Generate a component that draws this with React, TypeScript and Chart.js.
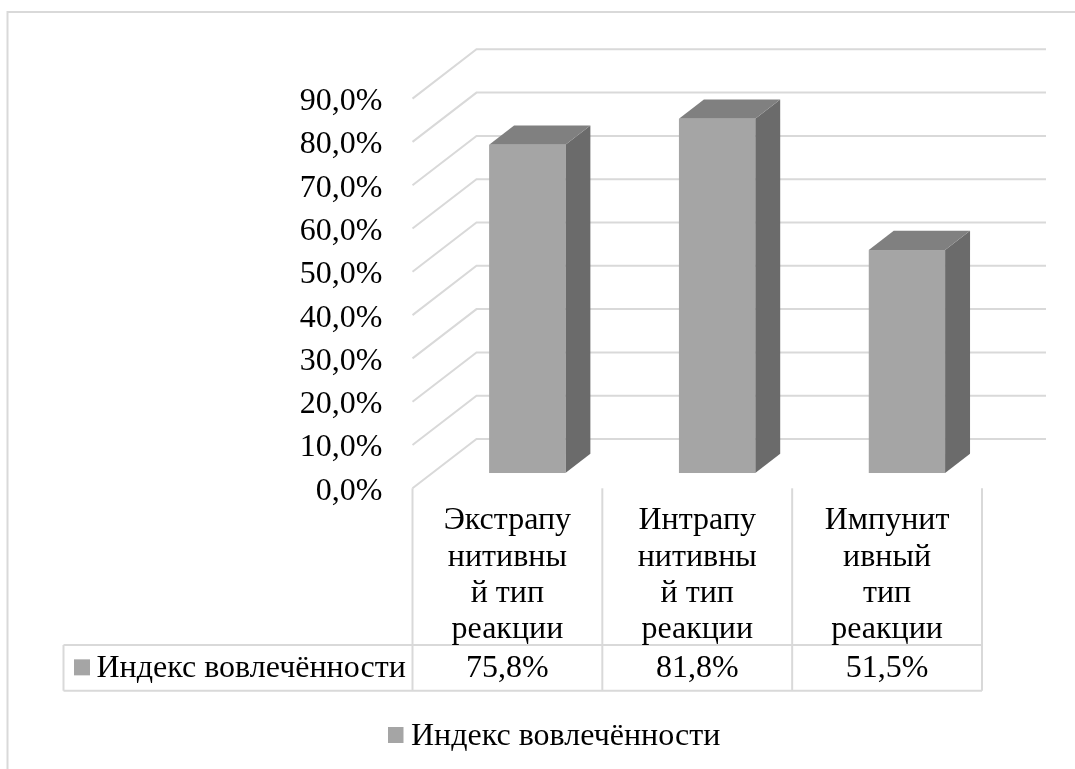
import React, { useEffect, useRef } from "react";
import { Chart, registerables } from "chart.js";

Chart.register(...registerables);

// ---- data ----
const categories: string[][] = [
  ["Экстрапу", "нитивны", "й тип", "реакции"],
  ["Интрапу", "нитивны", "й тип", "реакции"],
  ["Импунит", "ивный", "тип", "реакции"],
];
const seriesName = "Индекс вовлечённости";
const seriesValues = [75.8, 81.8, 51.5];
const yMin = 0;
const yMax = 90;
const yStep = 10;

// ---- style ----
const FONT = '32px "Liberation Serif", "Times New Roman", serif';
const TEXT = "#000000";
const GRID = "#d9d9d9";
const FRONT = "#a5a5a5";
const SIDE = "#6b6b6b";
const TOP = "#808080";
const DX = 64;
const DY = -49.3;
const BAR_F0 = 0.31;
const BAR_F1 = 0.7;

const fmt = (v: number) => v.toFixed(1).replace(".", ",") + "%";

const threeD = {
  id: "threeD",
  beforeDatasetsDraw(chart: any) {
    const { ctx, chartArea: ca } = chart;
    const y = chart.scales.y;
    ctx.save();
    // outer border
    ctx.strokeStyle = GRID;
    ctx.lineWidth = 2;
    ctx.strokeRect(7.5, 12, 1300, 1000);

    // gridlines: side wall diagonals + back wall
    ctx.strokeStyle = GRID;
    ctx.lineWidth = 2;
    y.ticks.forEach((t: any) => {
      const py = y.getPixelForValue(t.value);
      ctx.beginPath();
      ctx.moveTo(ca.left, py);
      ctx.lineTo(ca.left + DX, py + DY);
      ctx.lineTo(ca.right + DX, py + DY);
      ctx.stroke();
    });

    // tick labels
    ctx.fillStyle = TEXT;
    ctx.font = FONT;
    ctx.textAlign = "right";
    ctx.textBaseline = "alphabetic";
    y.ticks.forEach((t: any) => {
      const py = y.getPixelForValue(t.value);
      ctx.fillText(fmt(t.value), ca.left - 30, py + 11.4);
    });
    ctx.restore();
  },
  afterDatasetsDraw(chart: any) {
    const { ctx, chartArea: ca } = chart;
    const xs = chart.scales.x;
    const meta = chart.getDatasetMeta(0);
    ctx.save();
    // 3D bars
    meta.data.forEach((el: any) => {
      const w = el.width;
      const x0 = el.x - w / 2 + BAR_F0 * DX;
      const top = el.y + BAR_F0 * DY;
      const bot = el.base + BAR_F0 * DY;
      const ddx = (BAR_F1 - BAR_F0) * DX;
      const ddy = (BAR_F1 - BAR_F0) * DY;
      // side
      ctx.fillStyle = SIDE;
      ctx.beginPath();
      ctx.moveTo(x0 + w, top);
      ctx.lineTo(x0 + w + ddx, top + ddy);
      ctx.lineTo(x0 + w + ddx, bot + ddy);
      ctx.lineTo(x0 + w, bot);
      ctx.closePath();
      ctx.fill();
      // top
      ctx.fillStyle = TOP;
      ctx.beginPath();
      ctx.moveTo(x0, top);
      ctx.lineTo(x0 + ddx, top + ddy);
      ctx.lineTo(x0 + w + ddx, top + ddy);
      ctx.lineTo(x0 + w, top);
      ctx.closePath();
      ctx.fill();
      // front
      ctx.fillStyle = FRONT;
      ctx.fillRect(x0, top, w, bot - top);
    });

    // data table
    const n = categories.length;
    const colW = (ca.right - ca.left) / n;
    const rowTop = ca.bottom + 156.7;
    const rowBot = ca.bottom + 202.4;
    const tableLeft = 63.5;
    ctx.strokeStyle = GRID;
    ctx.lineWidth = 2;
    for (let i = 0; i <= n; i++) {
      const cx = i < n ? xs.getPixelForValue(i) - colW / 2 : xs.getPixelForValue(n - 1) + colW / 2;
      ctx.beginPath();
      ctx.moveTo(cx, ca.bottom);
      ctx.lineTo(cx, rowBot);
      ctx.stroke();
    }
    ctx.beginPath();
    ctx.moveTo(tableLeft, rowTop);
    ctx.lineTo(ca.right, rowTop);
    ctx.moveTo(tableLeft, rowBot);
    ctx.lineTo(ca.right, rowBot);
    ctx.moveTo(tableLeft, rowTop);
    ctx.lineTo(tableLeft, rowBot);
    ctx.stroke();

    ctx.fillStyle = TEXT;
    ctx.font = FONT;
    ctx.textAlign = "center";
    ctx.textBaseline = "alphabetic";
    categories.forEach((lines, i) => {
      const cx = xs.getPixelForValue(i);
      lines.forEach((ln, j) => {
        ctx.fillText(ln, cx, ca.bottom + 41 + j * 36.2);
      });
    });
    const rowBase = rowTop + 32;
    seriesValues.forEach((v, i) => {
      ctx.fillText(fmt(v), xs.getPixelForValue(i), rowBase);
    });
    // legend key in table
    const rowMid = (rowTop + rowBot) / 2;
    ctx.fillStyle = FRONT;
    ctx.fillRect(74, rowMid - 8.5, 16, 16);
    ctx.fillStyle = TEXT;
    ctx.textAlign = "left";
    ctx.fillText(seriesName, 96.5, rowBase);

    // bottom legend
    ctx.fillStyle = FRONT;
    ctx.fillRect(388, 727, 15.5, 16);
    ctx.fillStyle = TEXT;
    ctx.fillText(seriesName, 411, 745);
    ctx.restore();
  },
};

export default function App() {
  const ref = useRef<HTMLCanvasElement | null>(null);
  useEffect(() => {
    if (!ref.current) return;
    const chart = new Chart(ref.current, {
      type: "bar",
      data: {
        labels: categories.map((c) => c.join(" ")),
        datasets: [
          {
            label: seriesName,
            data: seriesValues,
            backgroundColor: "rgba(0,0,0,0)",
            borderWidth: 0,
            categoryPercentage: 1,
            barPercentage: 0.402,
          },
        ],
      },
      options: {
        responsive: false,
        animation: false,
        events: [],
        layout: { padding: { left: 412.5, right: 93, top: 98.6, bottom: 280.7 } },
        plugins: { legend: { display: false }, tooltip: { enabled: false } },
        scales: {
          x: { display: false, offset: true },
          y: { display: false, min: yMin, max: yMax, ticks: { stepSize: yStep } },
        },
      },
      plugins: [threeD],
    });
    return () => chart.destroy();
  }, []);
  return (
    <div style={{ position: "absolute", left: 0, top: 0, width: 1075, height: 769, background: "#fff" }}>
      <canvas ref={ref} width={1075} height={769} style={{ display: "block" }} />
    </div>
  );
}
